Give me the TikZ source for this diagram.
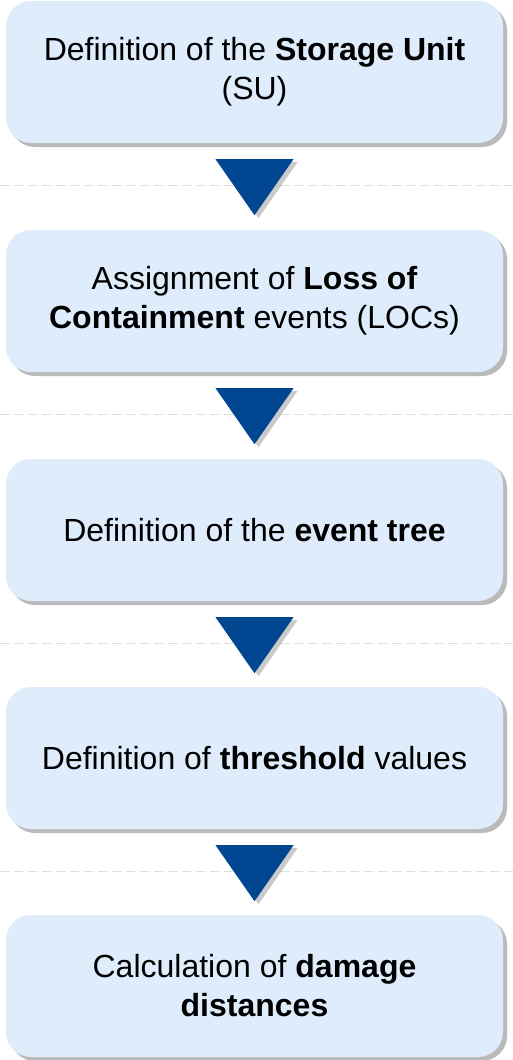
\documentclass[tikz,border=0pt]{standalone}
\usepackage{fontspec}
\setmainfont{Liberation Sans}
\usepackage{xcolor}
\usetikzlibrary{positioning, calc, shadows}

\definecolor{boxblue}{RGB}{222,236,252}
\definecolor{tridark}{RGB}{0,70,145}
\definecolor{dashgray}{RGB}{222,222,222}

\tikzset{
    stepbox/.style={rounded corners=25pt, fill=boxblue, minimum width=497pt, minimum height=142pt,
        align=center, font=\fontsize{32}{39}\selectfont, inner sep=0pt,
        drop shadow={shadow xshift=4pt, shadow yshift=-4pt, opacity=0.45, fill=black!60}},
    arrowtri/.style={fill=tridark, drop shadow={shadow xshift=4pt, shadow yshift=-3pt, opacity=0.35, fill=black!60}},
    sepline/.style={dashgray, line width=1.2pt, dash pattern=on 9pt off 5pt}
}

\begin{document}
\begin{tikzpicture}[x=1pt, y=-1pt]
    \useasboundingbox (0,0) rectangle (513,1060);

    \node[stepbox] (su)  at (254.5,72)  {Definition of the \textbf{Storage Unit}\\(SU)};
    \node[stepbox] (loc) at (254.5,301) {Assignment of \textbf{Loss of}\\\textbf{Containment} events (LOCs)};
    \node[stepbox] (et)  at (254.5,530) {Definition of the \textbf{event tree}};
    \node[stepbox] (thr) at (254.5,758) {Definition of \textbf{threshold} values};
    \node[stepbox] (dd)  at (254.5,986) {Calculation of \textbf{damage}\\\textbf{distances}};

    \foreach \a/\b in {su/loc, loc/et, et/thr, thr/dd} {
        \draw[sepline] ($(\a.south)+(-254.5,42)$) -- ($(\a.south)+(258.5,42)$);
        \fill[arrowtri] ($(\a.south)+(-39,16)$) -- ($(\a.south)+(39,16)$) -- ($(\a.south)+(0,72)$) -- cycle;
    }
\end{tikzpicture}
\end{document}
